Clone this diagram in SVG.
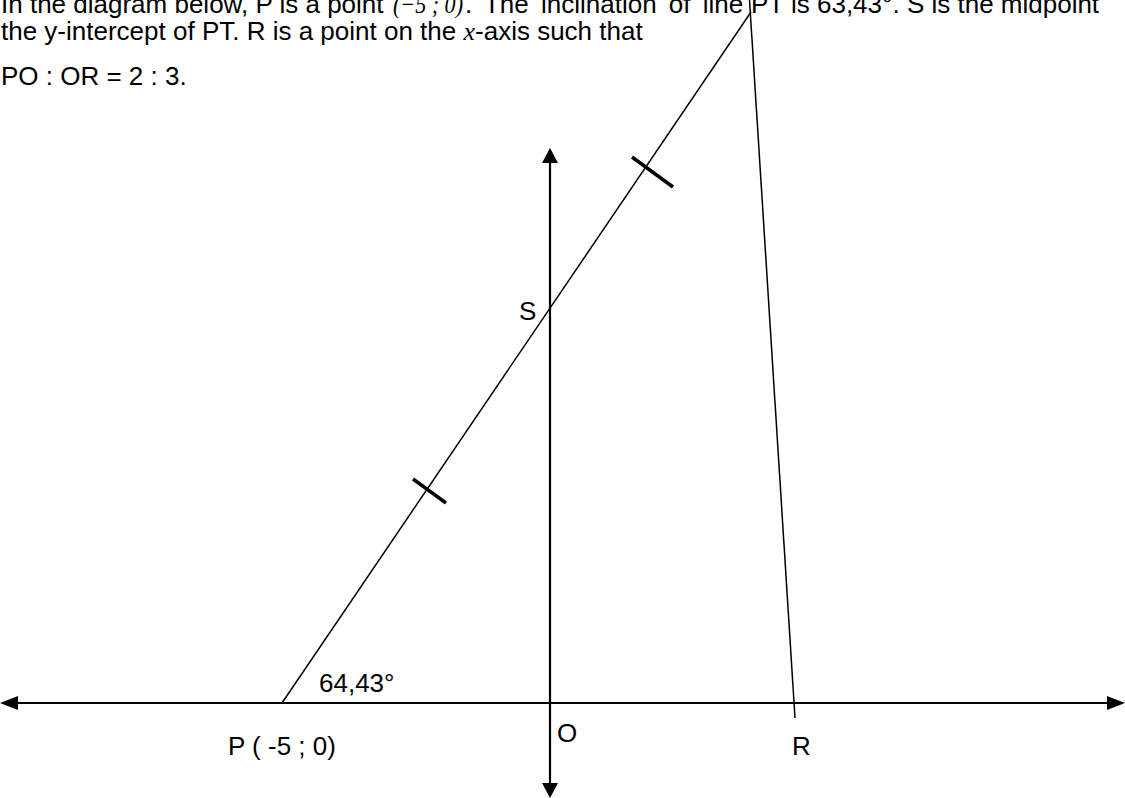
<svg xmlns="http://www.w3.org/2000/svg" width="1125" height="798" viewBox="0 0 1125 798">
<style>
text{font-family:"Liberation Sans",Arial,sans-serif;font-size:26px;fill:#000}
.m{font-family:"Liberation Serif","Times New Roman",serif;font-style:italic}
.ax{stroke:#000;stroke-width:2.2;fill:none}
.ln{stroke:#000;stroke-width:1.5;fill:none}
.tk{stroke:#000;stroke-width:3.5;fill:none}
.ah{fill:#000}
</style>
<rect width="1125" height="798" fill="#fff"/>
<g id="caption">
<text y="13"><tspan x="1">In the diagram below, P is a point</tspan><tspan class="m" x="393" textLength="70" lengthAdjust="spacingAndGlyphs">(−5 ; 0)</tspan><tspan x="465" word-spacing="5">. The inclination of line</tspan><tspan x="751">PT is 63,43°. S is the midpoint</tspan></text>
<text y="40" x="1">the y-intercept of PT. R is a point on the <tspan class="m">x</tspan>-axis such that</text>
<text y="85" x="1">PO : OR = 2 : 3.</text>
</g>
<g id="connectors">
<g id="x-axis">
<line class="ax" x1="14" y1="703" x2="1111" y2="703"/>
<polygon class="ah" points="0,703 18,696 18,710"/>
<polygon class="ah" points="1125,703 1107,696 1107,710"/>
</g>
<g id="y-axis">
<line class="ax" x1="550" y1="160" x2="550" y2="786"/>
<polygon class="ah" points="550,148 542,163 558,163"/>
<polygon class="ah" points="550,798 542,783 558,783"/>
</g>
<line id="PT" class="ln" x1="282" y1="703" x2="751" y2="12"/>
<line id="TR" class="ln" x1="749.5" y1="0" x2="795" y2="718"/>
<line id="tick1" class="tk" x1="413" y1="479" x2="446" y2="503"/>
<line id="tick2" class="tk" x1="632" y1="157" x2="673" y2="187"/>
</g>
<g id="node-S"><text x="519" y="320">S</text></g>
<g id="node-angle"><text x="319" y="692">64,43°</text></g>
<g id="node-P"><text x="228" y="755">P ( -5 ; 0)</text></g>
<g id="node-O"><text x="557" y="742">O</text></g>
<g id="node-R"><text x="792" y="755">R</text></g>
</svg>
